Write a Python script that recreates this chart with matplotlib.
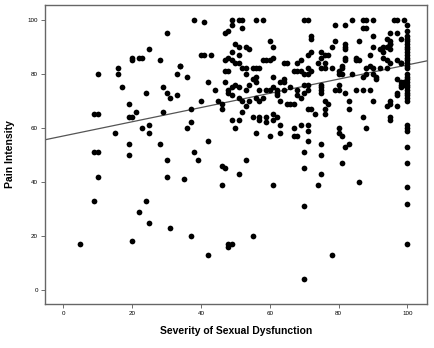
import matplotlib
matplotlib.use("Agg")
import matplotlib.pyplot as plt

plt.rcParams["font.family"] = ["Liberation Sans", "DejaVu Sans"]

# ── Data ──────────────────────────────────────────────────────────────────────
SEVERITY = [
    # low severity (x < 35)
    30, 25, 28, 20, 20, 22, 23, 16, 16, 10, 34, 33, 17, 24, 29, 30, 31, 33,
    19, 21, 19, 20, 29, 9, 10, 23, 25, 25, 15, 19, 28, 9, 10, 19, 30, 10,
    30, 9, 24, 22, 25, 31, 5, 20,
    # lower middle
    38, 39, 46, 47, 53, 35, 51, 46, 61, 37, 48, 49, 48, 55, 42,
    70, 75, 70, 75, 81, 74, 86, 70, 78, 70,
    100, 100, 100, 100,
    # 35-45
    38, 41, 40, 41, 43, 34, 36, 42, 44, 40, 45, 37, 37, 36, 42,
    # 45-60
    49, 49, 51, 52, 56, 58, 52, 48, 47, 50, 51, 53, 54, 49, 48, 47, 49, 50,
    51, 51, 58, 59, 47, 48, 52, 53, 55, 56, 57, 53, 56, 56, 55, 47, 50, 51,
    49, 48, 48, 49, 54, 53, 57, 59, 46, 46, 51, 52, 54, 56, 57, 58, 53, 52,
    49, 51, 50, 55, 57, 57, 59, 56,
    # 60-74
    70, 71, 72, 72, 60, 61, 60, 61, 72, 71, 64, 65, 68, 69, 74, 71, 67, 68,
    69, 70, 71, 72, 61, 61, 60, 64, 64, 63, 70, 71, 66, 64, 62, 62, 68, 70,
    71, 62, 63, 65, 66, 67, 68, 69, 71, 72, 73, 61, 62, 61, 59, 63, 63, 67,
    69, 71, 71, 60, 67, 68, 71,
    # 74-89
    79, 82, 84, 87, 88, 90, 87, 88, 79, 78, 82, 82, 82, 86, 75, 76, 77, 75,
    82, 82, 85, 85, 86, 89, 76, 75, 76, 78, 81, 81, 80, 80, 81, 84, 88, 89,
    87, 75, 75, 75, 75, 80, 80, 79, 82, 85, 87, 89, 76, 77, 76, 76, 83, 83,
    87, 88, 80, 80, 81, 75, 83, 82,
    # 89-99
    96, 97, 99, 95, 97, 90, 95, 94, 95, 94, 93, 92, 95, 98, 90, 93, 93, 94,
    95, 97, 98, 98, 92, 94, 90, 88, 90, 91, 91, 97, 98, 98, 99, 99, 98, 97,
    97, 90, 95, 94, 97, 95, 95, 95, 95,
    # column at 100
    100, 100, 100, 100, 100, 100, 100, 100, 100, 100, 100, 100, 100, 100,
    100, 100, 100, 100, 100, 100, 100, 100, 100, 100, 100, 100, 100, 100,
    100, 100,
]
PAIN = [
    95, 89, 85, 86, 85, 86, 86, 82, 80, 80, 83, 80, 75, 73, 75, 73, 71, 72,
    69, 66, 64, 64, 66, 65, 65, 60, 61, 58, 58, 54, 54, 51, 51, 50, 48, 42,
    42, 33, 33, 29, 25, 23, 17, 18,
    51, 48, 46, 45, 48, 41, 43, 39, 39, 20, 17, 17, 16, 20, 13,
    51, 50, 45, 43, 47, 39, 40, 31, 13, 4,
    47, 38, 32, 17,
    100, 99, 87, 87, 87, 83, 79, 77, 74, 70, 70, 67, 62, 60, 55,
    100, 98, 100, 100, 100, 100, 97, 96, 95, 91, 90, 90, 89, 88, 86, 85, 85, 84,
    84, 87, 85, 85, 81, 81, 82, 82, 82, 82, 82, 80, 79, 77, 78, 77, 76, 75,
    75, 74, 73, 72, 76, 74, 74, 74, 69, 67, 71, 70, 70, 71, 70, 71, 68, 66,
    63, 63, 60, 64, 64, 63, 64, 58,
    100, 100, 94, 93, 92, 90, 85, 86, 88, 87, 84, 84, 84, 85, 84, 82, 81, 81,
    81, 80, 80, 81, 79, 75, 74, 78, 77, 77, 76, 76, 75, 74, 74, 73, 74, 73,
    74, 72, 70, 69, 69, 69, 72, 71, 67, 67, 65, 65, 64, 63, 62, 61, 58, 60,
    61, 61, 59, 57, 57, 57, 55,
    98, 98, 100, 100, 100, 100, 97, 97, 92, 90, 91, 90, 89, 92, 88, 87, 87, 86,
    86, 85, 86, 85, 85, 87, 84, 82, 82, 82, 83, 82, 81, 80, 80, 80, 82, 83,
    79, 76, 75, 74, 73, 76, 74, 74, 73, 74, 74, 74, 70, 69, 67, 65, 70, 67,
    64, 60, 60, 58, 57, 54, 54, 53,
    100, 100, 100, 95, 95, 94, 91, 93, 92, 90, 90, 89, 89, 93, 90, 88, 86, 85,
    84, 85, 84, 84, 82, 82, 82, 80, 80, 79, 78, 78, 76, 77, 77, 76, 75, 73,
    72, 70, 70, 68, 68, 64, 63, 69, 91,
    98, 96, 94, 93, 92, 91, 90, 89, 88, 87, 85, 84, 83, 80, 79, 78, 77, 76,
    75, 74, 73, 72, 71, 70, 61, 60, 59, 53, 86, 82,
]

# fit line (pain = a + b * severity)
FIT_INTERCEPT = 57.0
FIT_SLOPE = 0.263

X_TICKS = [0, 20, 40, 60, 80, 100]
Y_TICKS = [0, 20, 40, 60, 80, 100]

# ── Figure ───────────────────────────────────────────────────────────────────
fig = plt.figure(figsize=(4.34, 3.48), dpi=100)
ax = fig.add_axes([0.103, 0.126, 0.881, 0.860])

ax.scatter(SEVERITY, PAIN, s=17, c="black", linewidths=0, zorder=3)
ax.axline((0, FIT_INTERCEPT), slope=FIT_SLOPE, color="#555555", lw=0.9, zorder=2)

ax.set_xlim(-5.4, 105.7)
ax.set_ylim(-5.2, 105.5)
ax.set_xticks(X_TICKS)
ax.set_yticks(Y_TICKS)
ax.tick_params(labelsize=4.5, length=3, width=0.6, color="#555555", pad=2)
for s in ax.spines.values():
    s.set_color("#666666")
    s.set_linewidth(1.0)

ax.set_xlabel("Severity of Sexual Dysfunction", fontsize=7.5, fontweight="bold", labelpad=7)
ax.set_ylabel("Pain Intensity", fontsize=7.5, fontweight="bold", labelpad=9)

fig.savefig("out.png", dpi=100)
